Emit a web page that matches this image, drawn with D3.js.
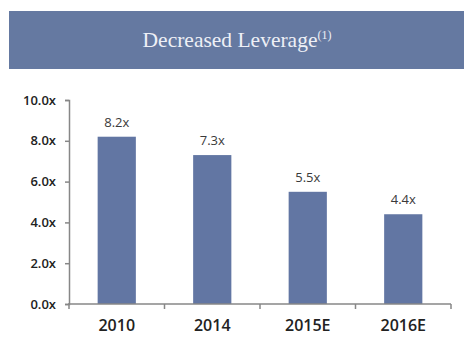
<!DOCTYPE html>
<html><head><meta charset="utf-8">
<script src="https://cdn.jsdelivr.net/npm/d3@7"></script>
<style>body{margin:0;background:#fff}svg{display:block}</style>
</head><body>
<svg id="c" width="473" height="350"></svg>
<script>
const categories = ["2010", "2014", "2015E", "2016E"];
const values = [8.2, 7.3, 5.5, 4.4];
const valueLabels = ["8.2x", "7.3x", "5.5x", "4.4x"];
const yTicks = [0, 2, 4, 6, 8, 10];
const title = "Decreased Leverage";
const titleNote = "(1)";

const svg = d3.select("#c");
const barColor = "#6276a3";
const axisColor = "#878787";

// banner
svg.append("rect").attr("x", 9).attr("y", 11).attr("width", 455).attr("height", 58).attr("fill", "#6579a1");
const t = svg.append("text").attr("x", 237).attr("y", 47).attr("text-anchor", "middle")
  .attr("font-family", "'Liberation Serif', serif").attr("font-size", 21.5).attr("fill", "#eef0f6");
t.append("tspan").text(title);
t.append("tspan").attr("font-size", 12).attr("dy", -8).text(titleNote);

const x = d3.scaleBand().domain(categories).range([69, 451]).padding(0);
const y = d3.scaleLinear().domain([0, 10]).range([304, 100]);
const bw = x.bandwidth() * 0.4;

svg.selectAll("rect.bar").data(values).join("rect").attr("class", "bar")
  .attr("x", (d, i) => x(categories[i]) + (x.bandwidth() - bw) / 2)
  .attr("y", d => y(d)).attr("width", bw).attr("height", d => y(0) - y(d))
  .attr("fill", barColor);

svg.selectAll("text.val").data(values).join("text").attr("class", "val")
  .attr("x", (d, i) => x(categories[i]) + x.bandwidth() / 2)
  .attr("y", d => y(d) - 10).attr("text-anchor", "middle")
  .attr("font-family", "'Open Sans', sans-serif").attr("font-size", 13).attr("fill", "#3a3a3a")
  .text((d, i) => valueLabels[i]);

// y axis
const ya = svg.append("g").attr("transform", "translate(69,0)")
  .call(d3.axisLeft(y).tickValues(yTicks).tickSize(4).tickPadding(9).tickFormat(d => d3.format(".1f")(d) + "x"));
ya.select(".domain").attr("stroke", axisColor).attr("stroke-width", 1.5);
ya.selectAll(".tick line").attr("stroke", axisColor).attr("stroke-width", 1.5);
ya.selectAll(".tick text").attr("font-family", "'Open Sans', sans-serif").attr("font-size", 13)
  .attr("font-weight", 600).attr("fill", "#222");

// x axis
const xa = svg.append("g").attr("transform", "translate(0,304)")
  .call(d3.axisBottom(x).tickSize(0).tickPadding(16));
xa.select(".domain").remove();
xa.selectAll(".tick text").attr("font-family", "'Open Sans', sans-serif").attr("font-size", 16)
  .attr("font-weight", 600).attr("fill", "#222");
svg.append("line").attr("x1", 68).attr("x2", 451).attr("y1", 304).attr("y2", 304)
  .attr("stroke", axisColor).attr("stroke-width", 1.5);
const bounds = categories.map(c => x(c)).concat([x(categories[categories.length - 1]) + x.bandwidth()]);
svg.selectAll("line.sep").data(bounds).join("line").attr("class", "sep")
  .attr("x1", d => d).attr("x2", d => d).attr("y1", 304).attr("y2", 309)
  .attr("stroke", axisColor).attr("stroke-width", 1.5);
</script>
</body></html>
